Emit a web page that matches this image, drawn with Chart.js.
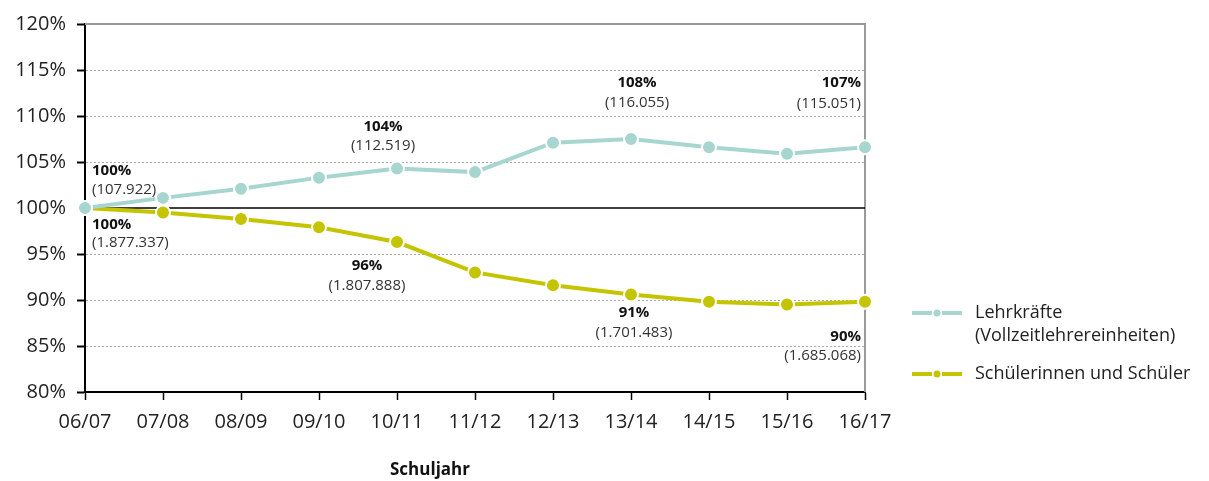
<!DOCTYPE html>
<html>
<head>
<meta charset="utf-8">
<script src="https://cdn.jsdelivr.net/npm/chart.js@4/dist/chart.umd.min.js"></script>
<style>
  html, body { margin: 0; padding: 0; background: #fff; }
  #wrap { width: 1209px; height: 481px; position: relative; }
</style>
</head>
<body>
<div id="wrap"><canvas id="chart"></canvas></div>
<script>
// Daten
const schuljahre = ['06/07', '07/08', '08/09', '09/10', '10/11', '11/12', '12/13', '13/14', '14/15', '15/16', '16/17'];
const lehrkraefte = [100, 101.1, 102.1, 103.3, 104.3, 103.9, 107.1, 107.5, 106.6, 105.9, 106.6];
const schueler = [100, 99.5, 98.8, 97.9, 96.3, 93.0, 91.6, 90.6, 89.8, 89.5, 89.8];
const yTicks = ['80%', '85%', '90%', '95%', '100%', '105%', '110%', '115%', '120%'];

// Beschriftungen an ausgewählten Punkten
const lehrLabelIdx = [0, 4, 7, 10];
const lehrLabelPct = ['100%', '104%', '108%', '107%'];
const lehrLabelAbs = ['(107.922)', '(112.519)', '(116.055)', '(115.051)'];
const schuelerLabelIdx = [0, 4, 7, 10];
const schuelerLabelPct = ['100%', '96%', '91%', '90%'];
const schuelerLabelAbs = ['(1.877.337)', '(1.807.888)', '(1.701.483)', '(1.685.068)'];

const legendLabels = [['Lehrkräfte', '(Vollzeitlehrereinheiten)'], ['Schülerinnen und Schüler']];

const TEAL = '#a7d6d0';
const OLIVE = '#c4c400';
const FONT = '"Open Sans", "Noto Sans", sans-serif';

// Lage der Beschriftungen relativ zum Punkt (dx, dy Zeile 1, dy Zeile 2, Ausrichtung)
const lehrSpots = [
    { dx: 7, dy1: -37, dy2: -18, align: 'left' },
    { dx: -14, dy1: -42, dy2: -23, align: 'center' },
    { dx: 6, dy1: -56, dy2: -36, align: 'center' },
    { dx: -4, dy1: -65, dy2: -44, align: 'right' }
];
const schuelerSpots = [
    { dx: 7, dy1: 17, dy2: 35, align: 'left' },
    { dx: -30, dy1: 24, dy2: 44, align: 'center' },
    { dx: 3, dy1: 18, dy2: 38, align: 'center' },
    { dx: -4, dy1: 35, dy2: 54, align: 'right' }
];

const extraLines = {
    id: 'extraLines',
    beforeDatasetsDraw(chart) {
        const { ctx, chartArea, scales } = chart;
        ctx.save();
        // Rahmen oben und rechts
        ctx.strokeStyle = '#9a9a9a';
        ctx.lineWidth = 2;
        ctx.beginPath();
        ctx.moveTo(chartArea.left, chartArea.top);
        ctx.lineTo(chartArea.right, chartArea.top);
        ctx.lineTo(chartArea.right, chartArea.bottom);
        ctx.stroke();
        // 100%-Linie
        const y100 = scales.y.getPixelForValue(100);
        ctx.strokeStyle = '#000';
        ctx.lineWidth = 1.5;
        ctx.beginPath();
        ctx.moveTo(chartArea.left, y100);
        ctx.lineTo(chartArea.right, y100);
        ctx.stroke();
        ctx.restore();
    },
    afterDatasetsDraw(chart) {
        const { ctx } = chart;
        const drawLabels = (dsIndex, idxs, pcts, abss, spots) => {
            const meta = chart.getDatasetMeta(dsIndex);
            idxs.forEach((i, k) => {
                const pt = meta.data[i];
                const s = spots[k];
                ctx.textAlign = s.align;
                ctx.textBaseline = 'middle';
                ctx.fillStyle = '#111';
                ctx.font = 'bold 15px ' + FONT;
                ctx.fillText(pcts[k], pt.x + s.dx, pt.y + s.dy1);
                ctx.fillStyle = '#333';
                ctx.font = '15px ' + FONT;
                ctx.fillText(abss[k], pt.x + s.dx, pt.y + s.dy2);
            });
        };
        ctx.save();
        drawLabels(0, lehrLabelIdx, lehrLabelPct, lehrLabelAbs, lehrSpots);
        drawLabels(1, schuelerLabelIdx, schuelerLabelPct, schuelerLabelAbs, schuelerSpots);

        // Legende
        const colors = [TEAL, OLIVE];
        const legendY = [313, 374];
        const lx = 912;
        legendLabels.forEach((lines, n) => {
            const y = legendY[n];
            ctx.strokeStyle = colors[n];
            ctx.lineWidth = 4;
            ctx.beginPath();
            ctx.moveTo(lx, y); ctx.lineTo(lx + 20, y);
            ctx.moveTo(lx + 30, y); ctx.lineTo(lx + 50, y);
            ctx.stroke();
            ctx.fillStyle = colors[n];
            ctx.beginPath();
            ctx.arc(lx + 25, y, 3.5, 0, Math.PI * 2);
            ctx.fill();
            ctx.fillStyle = '#222';
            ctx.font = '18px ' + FONT;
            ctx.textAlign = 'left';
            ctx.textBaseline = 'middle';
            lines.forEach((t, j) => ctx.fillText(t, lx + 63, y + j * 23));
        });

        // Achsentitel
        ctx.font = 'bold 17px ' + FONT;
        ctx.textAlign = 'center';
        ctx.fillStyle = '#111';
        ctx.fillText('Schuljahr', 430, 470);
        ctx.restore();
    }
};

new Chart(document.getElementById('chart'), {
    type: 'line',
    data: {
        labels: schuljahre,
        datasets: [
            {
                label: legendLabels[0].join(' '),
                data: lehrkraefte,
                borderColor: TEAL,
                backgroundColor: TEAL,
                borderWidth: 4,
                pointRadius: 7,
                pointBorderColor: '#fff',
                pointBorderWidth: 2,
                tension: 0
            },
            {
                label: legendLabels[1].join(' '),
                data: schueler,
                borderColor: OLIVE,
                backgroundColor: OLIVE,
                borderWidth: 4,
                pointRadius: 7,
                pointBorderColor: '#fff',
                pointBorderWidth: 2,
                tension: 0
            }
        ]
    },
    options: {
        responsive: true,
        maintainAspectRatio: false,
        animation: false,
        layout: { padding: { top: 24, right: 344, left: 0, bottom: 0 } },
        plugins: {
            legend: { display: false },
            tooltip: { enabled: false }
        },
        scales: {
            x: {
                offset: false,
                afterFit(scale) { scale.height = 89; },
                grid: { drawOnChartArea: false, tickLength: 8, tickColor: '#000', tickWidth: 1.5 },
                border: { color: '#000', width: 2 },
                ticks: { color: '#222', font: { family: FONT, size: 20 }, padding: 10, maxRotation: 0 }
            },
            y: {
                min: 80,
                max: 120,
                afterFit(scale) { scale.width = 85; },
                afterBuildTicks(scale) {
                    scale.ticks = yTicks.map(t => ({ value: parseFloat(t) }));
                },
                grid: {
                    color: ctx => (ctx.tick && (ctx.tick.value === 100 || ctx.tick.value === 120 || ctx.tick.value === 80)) ? 'rgba(0,0,0,0)' : '#aaa',
                    lineWidth: 1,
                    tickLength: 8,
                    tickColor: '#000',
                    tickWidth: 2,
                    tickBorderDash: []
                },
                border: { color: '#000', width: 2, dash: [2, 2] },
                ticks: {
                    color: '#222',
                    font: { family: FONT, size: 20 },
                    padding: 11,
                    callback: (v) => v + '%'
                }
            }
        }
    },
    plugins: [extraLines]
});
</script>
</body>
</html>
